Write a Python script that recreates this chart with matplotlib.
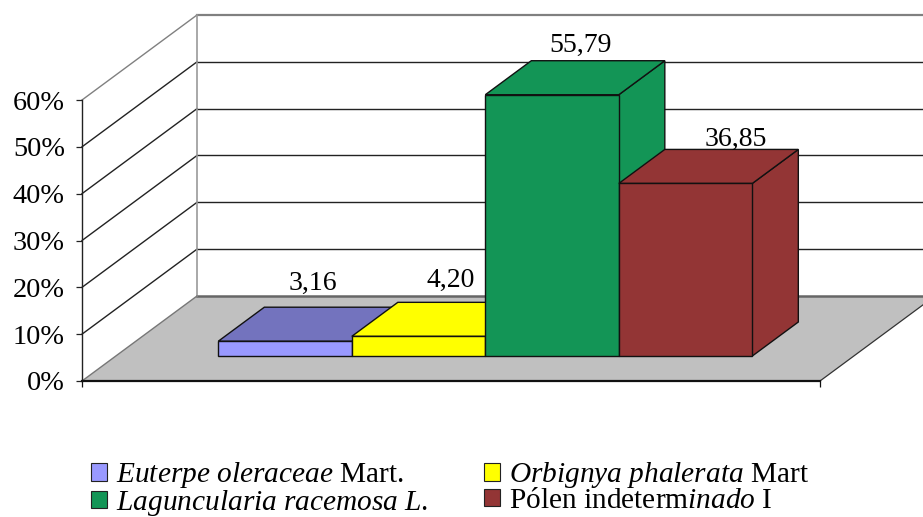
import matplotlib
matplotlib.use("Agg")
import matplotlib.pyplot as plt
from matplotlib.patches import Polygon, Patch

plt.rcParams['font.family'] = ['Liberation Serif', 'DejaVu Serif']
plt.rcParams['mathtext.fontset'] = 'custom'
plt.rcParams['mathtext.rm'] = 'Liberation Serif'
plt.rcParams['mathtext.it'] = 'Liberation Serif:italic'

categories = [r"$\mathit{Euterpe\ oleraceae}$ Mart.",
              r"$\mathit{Orbignya\ phalerata}$ Mart",
              r"$\mathit{Laguncularia\ racemosa\ L.}$",
              r"Pólen indeterm$\mathit{inado}$ I"]
values = [3.16, 4.20, 55.79, 36.85]
value_labels = ["3,16", "4,20", "55,79", "36,85"]
y_ticks = [0, 10, 20, 30, 40, 50, 60]

front_colors = ["#9999FF", "#FFFF00", "#139556", "#933535"]
top_colors = ["#7373BE", "#FFFF00", "#139556", "#933535"]
side_colors = ["#7373BE", "#BFBF00", "#139556", "#933535"]
label_nudges = [(-18, 24), (-14, 22), (-18, 15), (4, 10)]

W, H = 923, 517
fig = plt.figure(figsize=(W / 100, H / 100), dpi=100)
ax = fig.add_axes([82 / W, (H - 381) / H, 738 / W, 281 / H])
ax.set_xlim(0, 4)
ax.set_ylim(0, 60)

# Depth of the 3-D box and bars, in data units
DX = 115 / 184.5
DY = 85 / (281 / 60)
BAR_W = 133.5 / 184.5
BAR_SHIFT = 0.5 / 184.5
B0 = 25 / 85
B1 = B0 + 34 / 85


def depth(x, y, t):
    return (x + DX * t, y + DY * t)


def poly(pts, fc, ec, lw, z):
    ax.add_patch(Polygon(pts, closed=True, facecolor=fc, edgecolor=ec, lw=lw,
                         zorder=z, clip_on=False, joinstyle='miter'))


# floor
poly([(0, 0), (4, 0), depth(4, 0, 1), depth(0, 0, 1)], "#C0C0C0", "none", 0, 1)
ax.plot([4, 4 + DX], [0, DY], color="#333333", lw=0.9, zorder=2, clip_on=False)
ax.plot([0, DX], [0, DY], color="#777777", lw=1.0, zorder=2, clip_on=False)

# walls: grid lines
for v in y_ticks:
    c, lw = ("#808080", 1.6) if v == 60 else (("#666666", 1.8) if v == 0 else ("#222222", 1.0))
    ax.plot([DX, 4 + DX], [v + DY, v + DY], color=c, lw=lw, zorder=1.5, clip_on=False)
    if v > 0:
        ax.plot([0, DX], [v, v + DY], color="#808080" if v == 60 else "#222222",
                lw=1.0, zorder=1.5, clip_on=False)
ax.plot([DX, DX], [DY, 60 + DY], color="#999999", lw=1.2, zorder=1.6, clip_on=False)

# bars
for i, v in enumerate(values):
    x0 = 2 + BAR_SHIFT + (i - 2) * BAR_W
    x1 = x0 + BAR_W
    z = 3 + i
    ec = "#111111"
    poly([depth(x1, 0, B0), depth(x1, 0, B1), depth(x1, v, B1), depth(x1, v, B0)],
         side_colors[i], ec, 1.0, z)
    poly([depth(x0, v, B0), depth(x1, v, B0), depth(x1, v, B1), depth(x0, v, B1)],
         top_colors[i], ec, 1.0, z)
    poly([depth(x0, 0, B0), depth(x1, 0, B0), depth(x1, v, B0), depth(x0, v, B0)],
         front_colors[i], ec, 1.0, z)
    xm, ym = depth((x0 + x1) / 2, v, B1)
    nx, ny = label_nudges[i]
    ax.annotate(value_labels[i], (xm, ym), xytext=(nx, ny), textcoords="offset pixels",
                ha="center", va="center", fontsize=20, color="black", zorder=10,
                annotation_clip=False)

# axes
for s in ("top", "right"):
    ax.spines[s].set_visible(False)
ax.patch.set_visible(False)
ax.spines["left"].set_color("#222222")
ax.spines["left"].set_linewidth(1.0)
ax.spines["bottom"].set_color("#111111")
ax.spines["bottom"].set_linewidth(1.6)
ax.spines["bottom"].set_zorder(12)
ax.set_yticks(y_ticks)
ax.set_yticklabels([f"{v}%" for v in y_ticks], fontsize=20.3)
ax.set_xticks([0, 4])
ax.set_xticklabels([])
ax.tick_params(axis="y", length=4.3, width=0.9, pad=8, color="#222222")
ax.tick_params(axis="x", length=4.3, width=0.9, color="#111111")

# legend
handles = [Patch(facecolor=c, edgecolor="#222222", lw=0.8) for c in front_colors]
order = [0, 2, 1, 3]
leg = fig.legend([handles[i] for i in order], [categories[i] for i in order],
                 ncol=2, frameon=False, fontsize=21.2,
                 loc="lower left", bbox_to_anchor=(91 / W, -1 / H),
                 handlelength=0.55, handleheight=0.55, handletextpad=0.29,
                 columnspacing=1.9, labelspacing=-0.08, borderpad=0, borderaxespad=0)

fig.savefig("out.png", dpi=100)
